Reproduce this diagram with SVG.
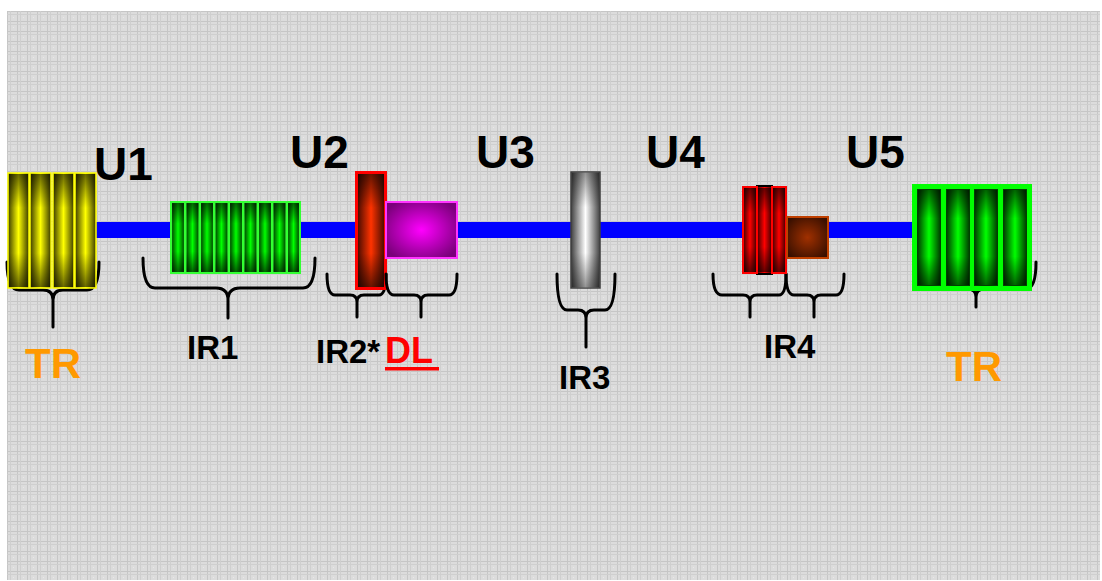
<svg xmlns="http://www.w3.org/2000/svg" width="1102" height="581" viewBox="0 0 1102 581">
<defs>
  <pattern id="grid" x="7" y="11" width="10" height="10" patternUnits="userSpaceOnUse">
    <rect width="10" height="10" fill="#dcdcdc"/>
    <rect x="0" y="0" width="10" height="1" fill="#c6c6c6"/>
    <rect x="0" y="0" width="1" height="10" fill="#c6c6c6"/>
    <rect x="0" y="3" width="10" height="1" fill="#cfcfcf"/>
    <rect x="3" y="0" width="1" height="10" fill="#cfcfcf"/>
    <rect x="6" y="6" width="1" height="1" fill="#e8e8e8"/>
  </pattern>
  <linearGradient id="gYellow" x1="0" y1="0" x2="1" y2="0">
    <stop offset="0" stop-color="#3a3a00"/><stop offset="0.5" stop-color="#ffff00"/><stop offset="1" stop-color="#3a3a00"/>
  </linearGradient>
  <linearGradient id="gGreen" x1="0" y1="0" x2="1" y2="0">
    <stop offset="0" stop-color="#003a00"/><stop offset="0.5" stop-color="#00ff00"/><stop offset="1" stop-color="#003a00"/>
  </linearGradient>
  <linearGradient id="gOrange" x1="0" y1="0" x2="1" y2="0">
    <stop offset="0" stop-color="#3a0800"/><stop offset="0.5" stop-color="#ff3300"/><stop offset="1" stop-color="#3a0800"/>
  </linearGradient>
  <linearGradient id="gGray" x1="0" y1="0" x2="1" y2="0">
    <stop offset="0" stop-color="#404040"/><stop offset="0.5" stop-color="#ffffff"/><stop offset="1" stop-color="#404040"/>
  </linearGradient>
  <linearGradient id="gRed" x1="0" y1="0" x2="1" y2="0">
    <stop offset="0" stop-color="#3a0000"/><stop offset="0.5" stop-color="#ff0000"/><stop offset="1" stop-color="#3a0000"/>
  </linearGradient>
  <linearGradient id="shade" x1="0" y1="0" x2="0" y2="1">
    <stop offset="0" stop-color="#000" stop-opacity="0.6"/><stop offset="0.3" stop-color="#000" stop-opacity="0"/>
    <stop offset="0.7" stop-color="#000" stop-opacity="0"/><stop offset="1" stop-color="#000" stop-opacity="0.6"/>
  </linearGradient>
  <radialGradient id="gMagenta" cx="0.5" cy="0.5" r="0.6">
    <stop offset="0" stop-color="#ff00ff"/><stop offset="1" stop-color="#7a007a"/>
  </radialGradient>
  <radialGradient id="gBrown" cx="0.5" cy="0.5" r="0.6">
    <stop offset="0" stop-color="#a03000"/><stop offset="1" stop-color="#3a1000"/>
  </radialGradient>
</defs>
<style>
  .brace { fill: none; stroke: #000; stroke-width: 3; stroke-linecap: round; stroke-linejoin: round; }
  .u { font-family: "Liberation Sans", Arial, sans-serif; font-weight: bold; font-size: 46px; fill: #000; }
  .lbl { font-family: "Liberation Sans", Arial, sans-serif; font-weight: bold; font-size: 33px; fill: #000; }
  .tr { font-family: "Liberation Sans", Arial, sans-serif; font-weight: bold; font-size: 42px; fill: #ff9900; }
  .dl { font-family: "Liberation Sans", Arial, sans-serif; font-weight: bold; font-size: 36px; fill: #ff0000; }
  .shade { fill: url(#shade); }
</style>
<rect x="7" y="11" width="1093" height="569" fill="url(#grid)"/>

<g id="connectors">
  <rect x="95" y="222" width="820" height="16" fill="#0000ff"/>
</g>

<g id="TR-left">
  <path class="brace" d="M7,262 Q7,290 19,290 H43 Q53,290 53,300 V327 M53,300 Q53,290 63,290 H87 Q99,290 99,262"/>
  <g stroke="#ffff00" stroke-width="1.5">
    <rect x="8" y="173" width="21" height="115" fill="url(#gYellow)"/>
    <rect x="30" y="173" width="21" height="115" fill="url(#gYellow)"/>
    <rect x="53" y="173" width="21" height="115" fill="url(#gYellow)"/>
    <rect x="75" y="173" width="21" height="115" fill="url(#gYellow)"/>
  </g>
  <g class="shade">
    <rect x="9" y="174" width="19" height="113"/><rect x="31" y="174" width="19" height="113"/>
    <rect x="54" y="174" width="19" height="113"/><rect x="76" y="174" width="19" height="113"/>
  </g>
  <text class="tr" x="25" y="378">TR</text>
</g>

<g id="U1"><text class="u" x="94" y="180">U1</text></g>
<g id="U2"><text class="u" x="290" y="168">U2</text></g>
<g id="U3"><text class="u" x="476" y="168">U3</text></g>
<g id="U4"><text class="u" x="646" y="168">U4</text></g>
<g id="U5"><text class="u" x="846" y="168">U5</text></g>

<g id="IR1">
  <path class="brace" d="M143,258 Q143,288 155,288 H216 Q228,288 228,300 V318 M228,300 Q228,288 240,288 H303 Q315,288 315,258"/>
  <rect x="170" y="201" width="131" height="73" fill="#33ff33"/>
  <g fill="url(#gGreen)" stroke="#33ff33" stroke-width="1.2">
    <rect x="171.5" y="202.5" width="13" height="70"/>
    <rect x="186" y="202.5" width="13" height="70"/>
    <rect x="200.5" y="202.5" width="13" height="70"/>
    <rect x="215" y="202.5" width="13" height="70"/>
    <rect x="229.5" y="202.5" width="13" height="70"/>
    <rect x="244" y="202.5" width="13" height="70"/>
    <rect x="258.5" y="202.5" width="13" height="70"/>
    <rect x="273" y="202.5" width="13" height="70"/>
    <rect x="287.5" y="202.5" width="12" height="70"/>
  </g>
  <g class="shade">
    <rect x="172" y="203" width="12" height="69"/><rect x="186.5" y="203" width="12" height="69"/>
    <rect x="201" y="203" width="12" height="69"/><rect x="215.5" y="203" width="12" height="69"/>
    <rect x="230" y="203" width="12" height="69"/><rect x="244.5" y="203" width="12" height="69"/>
    <rect x="259" y="203" width="12" height="69"/><rect x="273.5" y="203" width="12" height="69"/>
    <rect x="288" y="203" width="11" height="69"/>
  </g>
  <text class="lbl" x="187" y="359">IR1</text>
</g>

<g id="IR2">
  <path class="brace" d="M327,274 Q327,295 335,295 H350 Q357,295 357,302 V317 M357,302 Q357,295 364,295 H379 Q386,295 386,274"/>
  <rect x="356.5" y="172.5" width="29" height="116" fill="url(#gOrange)" stroke="#ff0000" stroke-width="3"/>
  <rect x="358" y="174" width="26" height="113" class="shade"/>
  <text class="lbl" x="316" y="363">IR2*</text>
</g>

<g id="DL">
  <path class="brace" d="M386,274 Q386,295 394,295 H414 Q421,295 421,302 V317 M421,302 Q421,295 428,295 H449 Q457,295 457,274"/>
  <rect x="386" y="202" width="71" height="56" fill="url(#gMagenta)" stroke="#ff33ff" stroke-width="2"/>
  <text class="dl" x="385" y="363">DL</text>
  <rect x="385" y="367" width="54" height="3.5" fill="#ff0000"/>
</g>

<g id="IR3">
  <path class="brace" d="M557,274 Q557,310 567,310 H578 Q586,310 586,318 V347 M586,318 Q586,310 594,310 H605 Q615,310 615,274"/>
  <rect x="571" y="172" width="29" height="116" fill="url(#gGray)" stroke="#404040" stroke-width="1.5"/>
  <rect x="572" y="173" width="27" height="114" class="shade" opacity="0.7"/>
  <text class="lbl" x="559" y="389">IR3</text>
</g>

<g id="IR4">
  <path class="brace" d="M713,274 Q713,295 722,295 H743 Q750,295 750,302 V317 M750,302 Q750,295 757,295 H779 Q786,295 786,274"/>
  <path class="brace" d="M786,274 Q786,295 794,295 H807 Q814,295 814,302 V317 M814,302 Q814,295 821,295 H836 Q844,295 844,274"/>
  <rect x="757" y="186" width="15" height="88" fill="url(#gRed)" stroke="#000" stroke-width="2"/>
  <rect x="743" y="187" width="14" height="86" fill="url(#gRed)" stroke="#ff0000" stroke-width="2"/>
  <rect x="772" y="187" width="14" height="86" fill="url(#gRed)" stroke="#ff0000" stroke-width="2"/>
  <g class="shade"><rect x="744" y="188" width="12" height="84"/><rect x="758" y="188" width="13" height="84"/><rect x="773" y="188" width="12" height="84"/></g>
  <rect x="787" y="217" width="41" height="41" fill="url(#gBrown)" stroke="#c04000" stroke-width="2"/>
  <text class="lbl" x="764" y="358">IR4</text>
</g>

<g id="TR-right">
  <path class="brace" d="M918,262 Q918,289 928,289 H968 Q976,289 976,297 V307 M976,297 Q976,289 984,289 H1026 Q1036,289 1036,262"/>
  <rect x="912" y="184" width="120" height="107" fill="#00ff00"/>
  <g fill="url(#gGreen)" stroke="#004000" stroke-width="1">
    <rect x="917.5" y="189.5" width="23" height="96"/>
    <rect x="946.5" y="189.5" width="23" height="96"/>
    <rect x="974.5" y="189.5" width="23" height="96"/>
    <rect x="1003.5" y="189.5" width="23" height="96"/>
  </g>
  <g class="shade">
    <rect x="918" y="190" width="22" height="95"/><rect x="947" y="190" width="22" height="95"/>
    <rect x="975" y="190" width="22" height="95"/><rect x="1004" y="190" width="22" height="95"/>
  </g>
  <text class="tr" x="946" y="381">TR</text>
</g>
</svg>
